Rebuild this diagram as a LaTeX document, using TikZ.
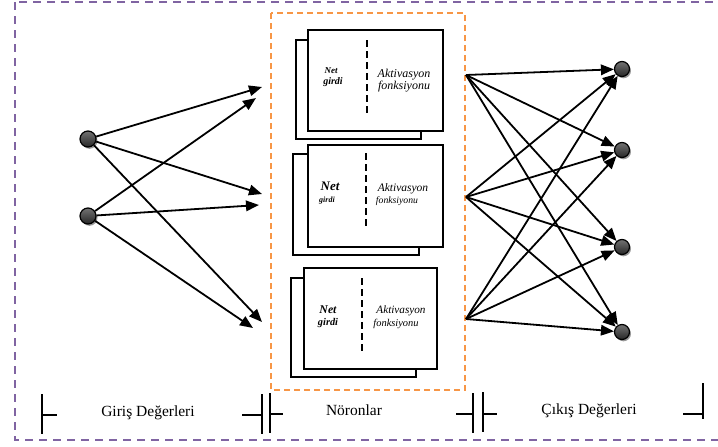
\documentclass[tikz,border=0pt]{standalone}
\usepackage{fontspec}
\setmainfont{Liberation Serif}
\usetikzlibrary{arrows.meta,shadows}
\definecolor{mor}{HTML}{8064A2}
\definecolor{turuncu}{HTML}{F79646}
\newcommand\boyut[1]{\fontsize{#1}{#1}\selectfont}

\begin{document}
\begin{tikzpicture}[x=1pt,y=-1pt,>={Triangle[length=13pt,width=10.5pt]},line width=1.8pt,
		kutu/.style={fill=white,draw=black,line width=1.8pt},
		ayrac/.style={dash pattern=on 7pt off 4pt,line width=1.8pt},
		top/.style={circle,draw=black,line width=1.2pt,inner sep=0pt,minimum size=#1,
			top color=black!55,bottom color=black!85,
			drop shadow={shadow xshift=1.5pt,shadow yshift=-1.8pt,fill=black!40,opacity=1}},
		etiket/.style={anchor=base,inner sep=0pt,font=\boyut{15.5}}]
		\useasboundingbox (0,0) rectangle (718,447);

		% frames
		\draw [mor,line width=2pt,dash pattern=on 8pt off 6pt] (15,2) rectangle (724,440);
		\draw [turuncu,line width=2pt,dash pattern=on 6pt off 4pt] (271,13) rectangle (465,390);

		% neurons (back sheet, front sheet, divider)
		\draw [kutu] (296,40) rectangle (421,139);
		\draw [kutu] (308,30) rectangle (443,131);
		\draw [ayrac] (367,40) -- (367,114);
		\draw [kutu] (293,154) rectangle (419,255);
		\draw [kutu] (308,145) rectangle (443,247);
		\draw [ayrac] (366,153) -- (366,228);
		\draw [kutu] (291,278) rectangle (416,377);
		\draw [kutu] (304,268) rectangle (437,369);
		\draw [ayrac] (362,278) -- (362,352);

		\path [every node/.style={anchor=base,inner sep=0pt}]
		(331,73)  node[font=\bfseries\itshape\boyut{9}]    (net1) {Net}
		(333,84)  node[font=\bfseries\itshape\boyut{10}]   (girdi1) {girdi}
		(404,77)  node[font=\itshape\boyut{12}]            (akt1) {Aktivasyon}
		(404,89)  node[font=\itshape\boyut{12}]            (fonk1) {fonksiyonu}
		(330,190) node[font=\bfseries\itshape\boyut{13}]   (net2) {Net}
		(327,202) node[font=\bfseries\itshape\boyut{8}]    (girdi2) {girdi}
		(403,191) node[font=\itshape\boyut{11.5}]          (akt2) {Aktivasyon}
		(397,203) node[font=\itshape\boyut{9.7}]           (fonk2) {fonksiyonu}
		(328,313) node[font=\bfseries\itshape\boyut{11.8}] (net3) {Net}
		(328,325) node[font=\bfseries\itshape\boyut{10.3}] (girdi3) {girdi}
		(401,313) node[font=\itshape\boyut{11.2}]          (akt3) {Aktivasyon}
		(396,326) node[font=\itshape\boyut{10.4}]          (fonk3) {fonksiyonu};

		% inputs and outputs
		\node [top=16pt] (g1) at (88,139) {};
		\node [top=16pt] (g2) at (88,216) {};
		\node [top=15pt] (c1) at (622,69) {};
		\node [top=15pt] (c2) at (622,150) {};
		\node [top=15pt] (c3) at (622,247) {};
		\node [top=15pt] (c4) at (622,332) {};

		% arrow ends at the neuron column
		\coordinate (h11) at (262,87);
		\coordinate (h12) at (262,194);
		\coordinate (h13) at (262,322);
		\coordinate (h21) at (256,98);
		\coordinate (h22) at (259,205);
		\coordinate (h23) at (253,328);
		\coordinate (n1) at (466,75);
		\coordinate (n2) at (466,197);
		\coordinate (n3) at (466,319);

		\foreach \i in {1,2}
			\foreach \j in {1,2,3}
				\draw [->] (g\i) -- (h\i\j);
		\foreach \i in {1,2,3}
			\foreach \j in {1,...,4}
				\draw [->] (n\i) -- (c\j);

		% brackets under the columns
		\draw [line width=2pt] (42,394) -- (42,434) (42,415) -- (57,415);
		\draw [line width=2pt] (242,415) -- (262,415) (262,394) -- (262,434);
		\draw [line width=2pt] (270,393) -- (270,433) (270,414) -- (283,414);
		\draw [line width=2pt] (456,414) -- (473,414) (473,393) -- (473,433);
		\draw [line width=2pt] (483,392) -- (483,432) (483,414) -- (497,414);
		\draw [line width=2pt] (683,414) -- (703,414) (703,383) -- (703,419);

		\node [etiket] (giris) at (148,416) {Giriş Değerleri};
		\node [etiket] (noron) at (354,415) {Nöronlar};
		\node [etiket] (cikis) at (589,414) {Çıkış Değerleri};
\end{tikzpicture}
\end{document}
